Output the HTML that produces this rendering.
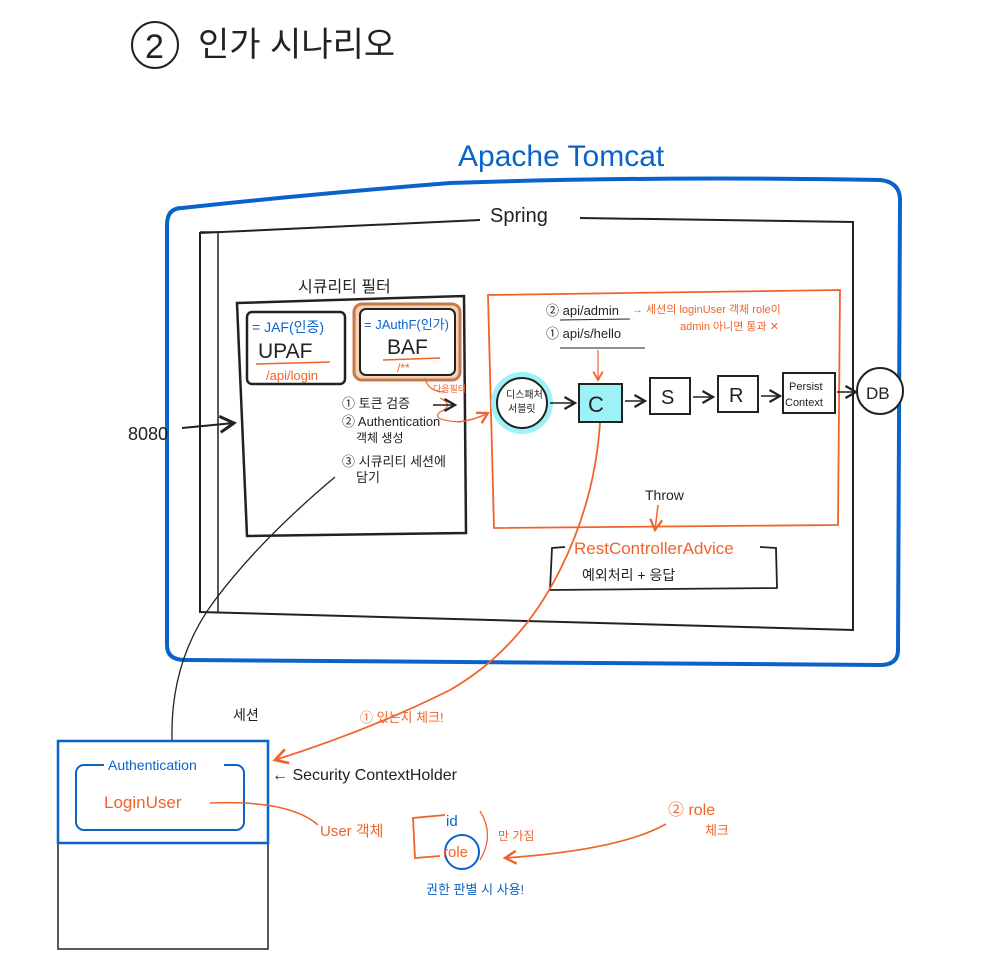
<!DOCTYPE html>
<html><head><meta charset="utf-8"><style>
html,body{margin:0;padding:0;background:#fff;}
svg{display:block;}
text{font-family:"Liberation Sans","Noto Sans CJK KR",sans-serif;}
</style></head><body>
<svg width="987" height="967" viewBox="0 0 987 967" xmlns="http://www.w3.org/2000/svg">
<defs>
<marker id="ab" markerWidth="10" markerHeight="10" refX="8" refY="5" orient="auto"><path d="M1,1 L8,5 L1,9" fill="none" stroke="#222" stroke-width="1.5"/></marker>
<marker id="ao" markerWidth="10" markerHeight="10" refX="8" refY="5" orient="auto"><path d="M1,1 L8,5 L1,9" fill="none" stroke="#f0642a" stroke-width="1.5"/></marker>
</defs>
<!-- title -->
<circle cx="155" cy="45" r="23" fill="none" stroke="#222" stroke-width="2"/>
<text x="145" y="58" font-size="34" fill="#222">2</text>
<text x="198" y="56" font-size="34" fill="#222">인가  시나리오</text>
<!-- tomcat -->
<text x="458" y="166" font-size="30" fill="#0a64c8">Apache Tomcat</text>
<path d="M182,208 Q300,195 450,183 Q650,176 880,180 Q900,182 900,200 L898,650 Q898,665 880,665 L185,660 Q167,660 167,645 L167,225 Q167,208 182,208Z" fill="none" stroke="#0a64c8" stroke-width="4"/>
<!-- spring -->
<path d="M480,220 L200,233 L200,232 L200,612 L853,630 L853,222 L580,218" fill="none" stroke="#222" stroke-width="2"/>
<path d="M200,232 L218,232 L218,612" fill="none" stroke="#222" stroke-width="1.5"/>
<text x="490" y="222" font-size="20" fill="#222">Spring</text>
<!-- security filter -->
<text x="298" y="292" font-size="16" fill="#222">시큐리티 필터</text>
<path d="M237,303 L464,296 L466,533 L247,536 Z" fill="none" stroke="#222" stroke-width="2.5"/>
<rect x="247" y="312" width="98" height="72" rx="5" fill="none" stroke="#222" stroke-width="2.5"/>
<text x="252" y="332" font-size="14" fill="#0a64c8">= JAF(인증)</text>
<text x="258" y="358" font-size="21" fill="#222">UPAF</text>
<line x1="256" y1="364" x2="330" y2="362" stroke="#f0642a" stroke-width="1.5"/>
<text x="266" y="380" font-size="13" fill="#f0642a">/api/login</text>
<rect x="354" y="304" width="106" height="76" rx="8" fill="#f3d2b8" stroke="#c7794a" stroke-width="3"/>
<rect x="360" y="309" width="95" height="66" rx="6" fill="#fff" stroke="#222" stroke-width="2"/>
<text x="364" y="329" font-size="13" fill="#0a64c8">= JAuthF(인가)</text>
<text x="387" y="354" font-size="21" fill="#222">BAF</text>
<line x1="383" y1="360" x2="440" y2="358" stroke="#f0642a" stroke-width="1.5"/>
<text x="397" y="372" font-size="12" fill="#f0642a">/**</text>
<text x="342" y="408" font-size="13" fill="#222">① 토큰 검증</text>
<text x="342" y="426" font-size="13" fill="#222">② Authentication</text>
<text x="356" y="442" font-size="12" fill="#222">객체 생성</text>
<text x="342" y="466" font-size="13" fill="#222">③ 시큐리티 세션에</text>
<text x="356" y="482" font-size="13" fill="#222">담기</text>
<text x="433" y="392" font-size="9" fill="#f0642a">다음필터</text>
<path d="M425,378 Q428,392 445,392 M440,398 Q455,405 440,412 Q430,420 460,422" fill="none" stroke="#f0642a" stroke-width="1.2"/>
<path d="M458,422 Q475,420 488,413" fill="none" stroke="#f0642a" stroke-width="1.5" marker-end="url(#ao)"/>
<line x1="433" y1="405" x2="455" y2="405" stroke="#222" stroke-width="1.5" marker-end="url(#ab)"/>
<!-- 8080 -->
<text x="128" y="440" font-size="18" fill="#222">8080</text>
<line x1="182" y1="428" x2="234" y2="423" stroke="#222" stroke-width="2" marker-end="url(#ab)"/>
<!-- orange box -->
<path d="M488,295 L840,290 L838,525 L494,528 Z" fill="none" stroke="#f0642a" stroke-width="1.8"/>
<text x="546" y="315" font-size="13" fill="#222">② api/admin</text>
<line x1="560" y1="320" x2="630" y2="319" stroke="#222" stroke-width="1"/>
<text x="632" y="313" font-size="11" fill="#f0642a">→ 세션의 loginUser 객체 role이</text>
<text x="680" y="330" font-size="11" fill="#f0642a">admin 아니면 통과 ✕</text>
<text x="546" y="338" font-size="13" fill="#222">① api/s/hello</text>
<line x1="560" y1="348" x2="645" y2="348" stroke="#222" stroke-width="1"/>
<line x1="598" y1="350" x2="598" y2="380" stroke="#f0642a" stroke-width="1.2" marker-end="url(#ao)"/>
<circle cx="522" cy="403" r="31" fill="#9cf2f6"/>
<circle cx="522" cy="403" r="25" fill="#fff" stroke="#222" stroke-width="2"/>
<text x="506" y="398" font-size="10" fill="#222">디스패처</text>
<text x="508" y="412" font-size="10" fill="#222">서블릿</text>
<line x1="550" y1="403" x2="575" y2="403" stroke="#222" stroke-width="1.5" marker-end="url(#ab)"/>
<rect x="579" y="384" width="43" height="38" fill="#9cf2f6" stroke="#222" stroke-width="2"/>
<text x="588" y="412" font-size="22" fill="#222">C</text>
<line x1="625" y1="401" x2="645" y2="401" stroke="#222" stroke-width="1.5" marker-end="url(#ab)"/>
<rect x="650" y="378" width="40" height="36" fill="#fff" stroke="#222" stroke-width="2"/>
<text x="661" y="404" font-size="20" fill="#222">S</text>
<line x1="693" y1="397" x2="713" y2="397" stroke="#222" stroke-width="1.5" marker-end="url(#ab)"/>
<rect x="718" y="376" width="40" height="36" fill="#fff" stroke="#222" stroke-width="2"/>
<text x="729" y="402" font-size="20" fill="#222">R</text>
<line x1="761" y1="396" x2="780" y2="396" stroke="#222" stroke-width="1.5" marker-end="url(#ab)"/>
<rect x="783" y="373" width="52" height="40" fill="#fff" stroke="#222" stroke-width="2"/>
<text x="789" y="390" font-size="11" fill="#222">Persist</text>
<text x="785" y="406" font-size="11" fill="#222">Context</text>
<line x1="837" y1="392" x2="856" y2="392" stroke="#222" stroke-width="1.5" marker-end="url(#ab)"/>
<circle cx="880" cy="391" r="23" fill="#fff" stroke="#222" stroke-width="2"/>
<text x="866" y="399" font-size="17" fill="#222">DB</text>
<text x="645" y="500" font-size="14" fill="#222">Throw</text>
<line x1="658" y1="505" x2="655" y2="530" stroke="#f0642a" stroke-width="1.5" marker-end="url(#ao)"/>
<!-- rest controller advice -->
<path d="M565,547 L552,548 L550,590 L777,588 L776,548 L760,547" fill="none" stroke="#222" stroke-width="1.8"/>
<text x="574" y="554" font-size="17" fill="#f0642a">RestControllerAdvice</text>
<text x="582" y="580" font-size="14" fill="#222">예외처리 + 응답</text>
<!-- connectors -->
<path d="M600,423 Q595,500 560,570 Q520,650 450,690 Q370,730 275,760" fill="none" stroke="#f0642a" stroke-width="1.8" marker-end="url(#ao)"/>
<path d="M335,477 Q260,540 215,600 Q170,660 172,740" fill="none" stroke="#222" stroke-width="1.3"/>
<text x="233" y="720" font-size="14" fill="#222">세션</text>
<text x="360" y="722" font-size="13" fill="#f0642a">① 있는지 체크!</text>
<!-- session box -->
<rect x="58" y="741" width="210" height="208" fill="none" stroke="#222" stroke-width="1.5"/>
<rect x="58" y="741" width="210" height="102" fill="none" stroke="#0a64c8" stroke-width="2.5"/>
<rect x="76" y="765" width="168" height="65" rx="8" fill="none" stroke="#0a64c8" stroke-width="2"/>
<rect x="104" y="756" width="120" height="16" fill="#fff"/>
<text x="108" y="770" font-size="14" fill="#0a64c8">Authentication</text>
<text x="104" y="808" font-size="17" fill="#f0642a">LoginUser</text>
<text x="272" y="780" font-size="16" fill="#222">← Security ContextHolder</text>
<path d="M210,803 Q290,800 318,825" fill="none" stroke="#f0642a" stroke-width="1.5"/>
<text x="320" y="836" font-size="15" fill="#f0642a">User 객체</text>
<path d="M445,815 L413,818 L415,858 L440,856" fill="none" stroke="#f0642a" stroke-width="1.8"/>
<text x="446" y="826" font-size="15" fill="#0a64c8">id</text>
<circle cx="462" cy="852" r="17" fill="none" stroke="#0a64c8" stroke-width="2"/>
<text x="443" y="857" font-size="15" fill="#f0642a">role</text>
<path d="M480,811 Q495,835 480,860" fill="none" stroke="#f0642a" stroke-width="1.3"/>
<text x="498" y="840" font-size="12" fill="#f0642a">만 가짐</text>
<text x="426" y="894" font-size="13" fill="#0a64c8">권한 판별 시 사용!</text>
<text x="668" y="815" font-size="16" fill="#f0642a">② role</text>
<text x="705" y="835" font-size="13" fill="#f0642a">체크</text>
<path d="M666,824 Q620,850 505,858" fill="none" stroke="#f0642a" stroke-width="1.6" marker-end="url(#ao)"/>
</svg>
</body></html>
